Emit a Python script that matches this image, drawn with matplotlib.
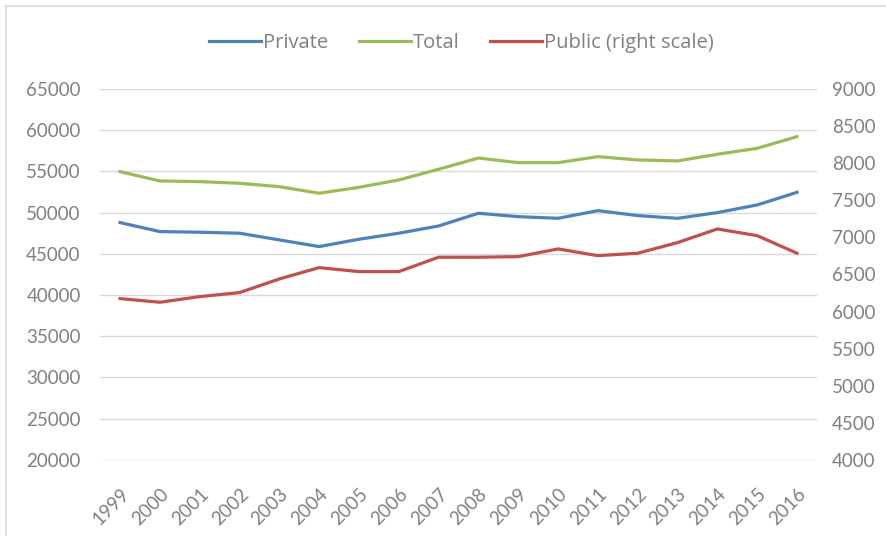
import matplotlib.pyplot as plt
from matplotlib.patches import Rectangle

years = list(range(1999, 2017))
private = [48790, 47700, 47620, 47500, 46690, 45880, 46770, 47500, 48380, 49920,
           49510, 49310, 50240, 49640, 49310, 50000, 50930, 52460]
total = [54970, 53840, 53760, 53560, 53150, 52350, 53070, 53960, 55260, 56620,
         56060, 56060, 56790, 56390, 56270, 57080, 57800, 59220]
public = [6174, 6125, 6201, 6255, 6439, 6592, 6538, 6538, 6732, 6732,
          6740, 6844, 6753, 6786, 6929, 7113, 7023, 6786]

left_ticks = list(range(20000, 65001, 5000))
right_ticks = list(range(4000, 9001, 500))

blue, green, red = '#4F81BD', '#9BBB59', '#C0504D'
grey_txt = '#808080'
plt.rcParams['font.family'] = ['Lato', 'DejaVu Sans']

fig = plt.figure(figsize=(8.86, 5.36), dpi=100)
fig.patches.append(Rectangle((0.007, -0.02), 1.2, 1.009, transform=fig.transFigure,
                             fill=False, edgecolor='#D9D9D9', linewidth=1.2))

ax = fig.add_axes([0.113, 0.142, 0.809, 0.692])
ax2 = ax.twinx()

l1, = ax.plot(years, private, color=blue, lw=2.3, label='Private')
l2, = ax.plot(years, total, color=green, lw=2.3, label='Total')
l3, = ax2.plot(years, public, color=red, lw=2.3, label='Public (right scale)')

ax.set_xlim(1998.5, 2016.5)
ax.set_ylim(20000, 65000)
ax2.set_ylim(4000, 9000)
ax.set_yticks(left_ticks)
ax2.set_yticks(right_ticks)
ax.set_xticks(years)
ax.set_xticklabels([str(y) for y in years], rotation=45, ha='right',
                   rotation_mode='anchor')

ax.grid(axis='y', color='#D9D9D9', lw=1)
ax.set_axisbelow(True)
for a in (ax, ax2):
    for s in a.spines.values():
        s.set_visible(False)
    a.tick_params(length=0, colors=grey_txt, labelsize=13.5)
ax.tick_params(axis='y', pad=14)
ax2.tick_params(axis='y', pad=11)
ax.tick_params(axis='x', pad=18, labelsize=13.5)

leg = fig.legend(handles=[l1, l2, l3], loc='center', bbox_to_anchor=(0.521, 0.919),
                 ncol=3, frameon=False, handlelength=2.6, handletextpad=0.1,
                 columnspacing=1.5,
                 prop={'family': ['Open Sans', 'DejaVu Sans'], 'size': 14.5})
for t in leg.get_texts():
    t.set_color(grey_txt)

fig.savefig('out.png', dpi=100)
